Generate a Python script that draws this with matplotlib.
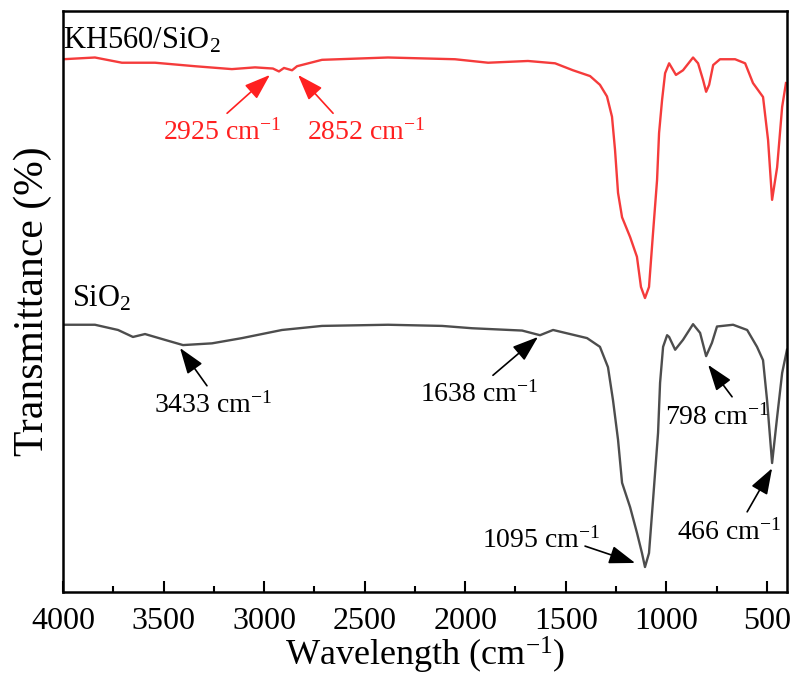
import matplotlib
matplotlib.use('Agg')
import matplotlib as mpl
import matplotlib.pyplot as plt
from matplotlib.ticker import MultipleLocator, NullLocator

mpl.rcParams['font.family'] = 'Liberation Serif'
mpl.rcParams['mathtext.fontset'] = 'custom'
mpl.rcParams['mathtext.rm'] = 'Liberation Serif'
mpl.rcParams['mathtext.it'] = 'Liberation Serif:italic'
mpl.rcParams['mathtext.bf'] = 'Liberation Serif:bold'

# KH560/SiO2 spectrum (wavenumber, transmittance in arb. %)
kh_wn = [4000, 3841, 3707, 3542, 3344, 3160, 3045, 2956, 2926, 2901, 2861, 2836,
         2712, 2384, 2051, 1886, 1688, 1553, 1464, 1379, 1330, 1295, 1270, 1255,
         1240, 1220, 1180, 1146, 1126, 1106, 1086, 1066, 1046, 1036, 1021, 1006,
         986, 952, 917, 867, 842, 817, 802, 787, 767, 733, 658, 608, 569, 519,
         494, 474, 449, 424, 405]
kh_T = [91.7, 92.0, 91.1, 91.1, 90.5, 90.0, 90.3, 90.1, 89.6, 90.2, 89.8, 90.5,
        91.6, 92.0, 91.7, 91.1, 91.4, 91.0, 89.8, 88.8, 87.3, 85.3, 81.8, 76.1,
        68.7, 64.5, 61.1, 57.7, 52.5, 50.6, 52.5, 61.8, 70.9, 79.0, 84.7, 89.3,
        91.0, 89.0, 89.8, 92.0, 91.0, 88.1, 86.1, 87.3, 90.7, 91.7, 91.7, 91.0,
        87.6, 85.2, 77.8, 67.5, 73.1, 83.5, 87.6]

# SiO2 spectrum
sio2_wn = [4000, 3841, 3726, 3652, 3592, 3493, 3403, 3259, 3110, 2911, 2712, 2384,
           2115, 1966, 1717, 1628, 1563, 1394, 1330, 1290, 1265, 1240, 1220, 1180,
           1146, 1121, 1106, 1086, 1066, 1041, 1031, 1016, 996, 986, 956, 917,
           867, 832, 802, 773, 748, 668, 598, 549, 519, 499, 474, 449, 424, 400]
sio2_T = [46.0, 46.0, 45.1, 43.9, 44.4, 43.4, 42.5, 42.8, 43.7, 45.1, 45.8, 46.0,
          45.8, 45.4, 45.0, 44.2, 45.1, 43.7, 42.2, 38.7, 33.0, 26.2, 18.8, 14.6,
          10.2, 6.7, 4.3, 6.7, 15.8, 27.4, 36.0, 42.2, 44.2, 43.9, 41.7, 43.4,
          46.1, 44.6, 40.6, 42.9, 45.7, 46.0, 45.1, 42.2, 39.9, 33.0, 22.2, 30.1,
          37.7, 41.7]

# peak annotations: label, text position, arrow tail, arrow tip, colour
ann_labels = ['2925', '2852', '3433', '1638', '1095', '798', '466']
ann_text = [(3503, 77.8), (2787, 77.8), (3547, 30.8), (2225, 32.7),
            (1916, 7.6), (1006, 28.9), (947, 9.0)]
ann_tail = [(3184, 82.4), (2657, 82.4), (3284, 35.5), (1862, 37.3),
            (1404, 7.9), (673, 33.6), (598, 13.8)]
ann_tip = [(2971, 89.0), (2831, 89.0), (3418, 42.0), (1638, 43.9),
           (1155, 5.0), (792, 39.1), (474, 21.3)]
ann_colors = ['#ff2020', '#ff2020', 'black', 'black', 'black', 'black', 'black']

red = '#f53b3b'
gray = '#4d4d4d'

fig = plt.figure(figsize=(7.93, 6.8), dpi=100)
ax = fig.add_axes([0.0794, 0.1294, 0.9130, 0.8544])

ax.plot(kh_wn, kh_T, color=red, lw=1.7)
ax.plot(sio2_wn, sio2_T, color=gray, lw=1.7)

ax.set_xlim(4000, 400)
ax.set_ylim(0, 100)

ax.text(4000, 93.5, 'KH560/SiO$_2$', fontsize=22, ha='left', va='baseline')
ax.text(3955, 49.2, 'SiO$_2$', fontsize=22, ha='left', va='baseline')

for lab, tpos, tail, tip, c in zip(ann_labels, ann_text, ann_tail, ann_tip, ann_colors):
    ax.text(tpos[0], tpos[1], lab + ' cm$^{-1}$', color=c, fontsize=20,
            ha='left', va='baseline')
    ax.annotate('', xy=tip, xytext=tail,
                arrowprops=dict(arrowstyle='-|>,head_length=0.8,head_width=0.28',
                                mutation_scale=20, color=c, lw=1.2,
                                shrinkA=0, shrinkB=0))

ax.xaxis.set_major_locator(MultipleLocator(500))
ax.xaxis.set_minor_locator(MultipleLocator(250))
ax.yaxis.set_major_locator(NullLocator())
ax.tick_params(axis='x', which='major', direction='in', length=8, width=1.5,
               labelsize=23, pad=11, top=False)
ax.tick_params(axis='x', which='minor', direction='in', length=4, width=1.5, top=False)
for s in ax.spines.values():
    s.set_linewidth(1.8)

ax.set_xlabel('Wavelength (cm$^{-1}$)', fontsize=26, labelpad=-1)
ax.set_ylabel('Transmittance (%)', fontsize=30, labelpad=8)

fig.savefig('out.png', dpi=100)
